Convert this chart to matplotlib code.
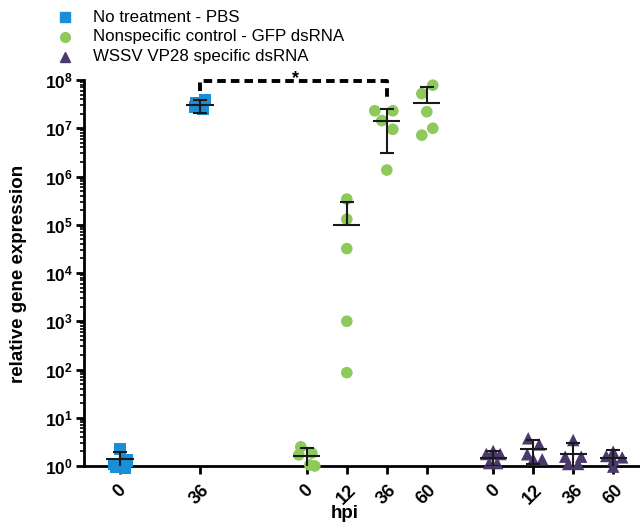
import matplotlib
matplotlib.use("Agg")
import matplotlib.pyplot as plt
import numpy as np
from matplotlib.lines import Line2D
from matplotlib.ticker import FixedLocator, LogLocator, NullFormatter

plt.rcParams['font.family'] = ['Liberation Sans', 'DejaVu Sans']
plt.rcParams['mathtext.fontset'] = 'custom'
plt.rcParams['mathtext.rm'] = 'Liberation Sans'
plt.rcParams['mathtext.bf'] = 'Liberation Sans:bold'

# ---------------- data ----------------
legend_labels = ["No treatment - PBS", "Nonspecific control - GFP dsRNA", "WSSV VP28 specific dsRNA"]
tick_labels = ["0", "36", "0", "12", "36", "60", "0", "12", "36", "60"]
group_series = [0, 0, 1, 1, 1, 1, 2, 2, 2, 2]

pbs_0 = [2.3, 1.3, 1.1, 0.95, 0.92]
pbs_36 = [3.8e7, 3.4e7, 3.0e7, 2.7e7, 2.5e7]
gfp_0 = [2.5, 1.7, 1.85, 1.05, 1.0]
gfp_12 = [3.4e5, 1.3e5, 3.2e4, 1.0e3, 86]
gfp_36 = [2.3e7, 2.3e7, 1.44e7, 9.5e6, 1.36e6]
gfp_60 = [7.8e7, 5.2e7, 2.2e7, 1.0e7, 7.2e6]
vp28_0 = [2.05, 1.77, 1.77, 1.15, 1.15]
vp28_12 = [3.75, 2.8, 1.75, 1.38, 1.38]
vp28_36 = [3.45, 1.56, 1.56, 1.1, 1.1]
vp28_60 = [1.98, 1.61, 1.51, 1.33, 0.97]
group_values = [pbs_0, pbs_36, gfp_0, gfp_12, gfp_36, gfp_60, vp28_0, vp28_12, vp28_36, vp28_60]

group_means = [1.4, 3.0e7, 1.6, 1.0e5, 1.4e7, 3.4e7, 1.5, 2.25, 1.75, 1.5]
group_sds = [0.55, 0.9e7, 0.76, 1.9e5, 1.1e7, 3.8e7, 0.5, 1.15, 1.2, 0.65]

sig_label = "*"

# ---------------- layout ----------------
positions = [0, 2, 4.67, 5.67, 6.67, 7.67, 9.33, 10.33, 11.33, 12.33]
jitter_px = [
    [0, 7, -6, -4, 5],
    [5, -4, 0, -5, 3],
    [-6, -8, 5, 3, 8],
    [0, 0, 0, 0, 0],
    [-12, 6, -5, 6, 0],
    [6, -5, 0, 6, -5],
    [0, -7, 7, -4, 4],
    [-5, 6, -6, 0, 9],
    [0, -8, 8, -5, 5],
    [0, -7, 9, 0, 0],
]
colors = ['#1B8FD6', '#8DC95B', '#4A3A6C']
markers = ['s', 'o', '^']
msizes = [75, 70, 80]

W, H = 640, 525
fig = plt.figure(figsize=(W / 100, H / 100), dpi=100)
ax = fig.add_axes([84 / W, 1 - 466 / H, (W - 84) / W, (466 - 80) / H])
ax.set_yscale('log')
ax.set_ylim(1, 1e8)
ax.set_xlim(-0.9, 13.0)

for i, vals in enumerate(group_values):
    s = group_series[i]
    xs = [positions[i] + j / 40 for j in jitter_px[i]]
    ax.scatter(xs, vals, marker=markers[s], s=msizes[s], color=colors[s],
               edgecolors='none', clip_on=False, zorder=3)

ecol = '#1a1a1a'
for i, (m, sd) in enumerate(zip(group_means, group_sds)):
    x = positions[i]
    top = m + sd
    low = m - sd
    ax.hlines(m, x - 0.34, x + 0.34, color=ecol, lw=1.5, zorder=4)
    ax.vlines(x, m, top, color=ecol, lw=1.5, zorder=4)
    ax.hlines(top, x - 0.18, x + 0.18, color=ecol, lw=1.5, zorder=4)
    if low > 0:
        ax.vlines(x, max(low, 1), m, color=ecol, lw=1.5, zorder=4)
        if low >= 1:
            ax.hlines(low, x - 0.18, x + 0.18, color=ecol, lw=1.5, zorder=4)

# significance bracket between PBS 36 and GFP 36
x1, x2 = positions[1], positions[4]
ybr = 0.97e8
ax.plot([x1, x1, x2, x2], [5.9e7, ybr, ybr, 4.0e7], color='black', lw=2.8,
        ls=(0, (2.2, 1.3)), clip_on=False, zorder=5)
ax.text((x1 + x2) / 2 + 0.05, 7.0e7, sig_label, ha='center', va='bottom',
        fontsize=13, fontweight='bold', clip_on=False, zorder=6)

# axes styling
for sp in ['top', 'right']:
    ax.spines[sp].set_visible(False)
ax.spines['left'].set_linewidth(2)
ax.spines['bottom'].set_linewidth(2)

ax.yaxis.set_major_locator(FixedLocator([10.0 ** k for k in range(9)]))
ax.set_yticklabels([r'$\mathbf{10^{%d}}$' % k for k in range(9)], fontsize=12.5)
ax.yaxis.set_minor_locator(LogLocator(base=10, subs=np.arange(2, 10)))
ax.yaxis.set_minor_formatter(NullFormatter())
ax.tick_params(axis='y', which='major', length=6, width=2, pad=2)
ax.tick_params(axis='y', which='minor', length=3, width=1.2)

ax.set_xticks(positions)
ax.set_xticklabels(tick_labels, rotation=45, ha='center', va='top',
                   fontsize=13, fontweight='bold')
ax.tick_params(axis='x', which='major', length=6, width=2, pad=5)
ax.tick_params(axis='x', which='minor', length=0)

ax.set_xlabel('hpi', fontsize=13.5, fontweight='bold')
ax.set_ylabel('relative gene expression', fontsize=13.5, fontweight='bold')
ax.xaxis.set_label_coords((345 - 84) / (W - 84), -(505 - 466) / (466 - 80))
ax.yaxis.set_label_coords(-(84 - 27) / (W - 84), (466 - 274) / (466 - 80))

# legend (manual)
for k, lab in enumerate(legend_labels):
    yy = 1 - (17 + 20 * k) / H
    fig.add_artist(Line2D([65 / W], [yy], marker=markers[k], color=colors[k],
                          markersize=7, linestyle='none', transform=fig.transFigure))
    fig.text(93 / W, yy, lab, fontsize=12.2, va='center', ha='left')

fig.savefig('out.png', dpi=100)
